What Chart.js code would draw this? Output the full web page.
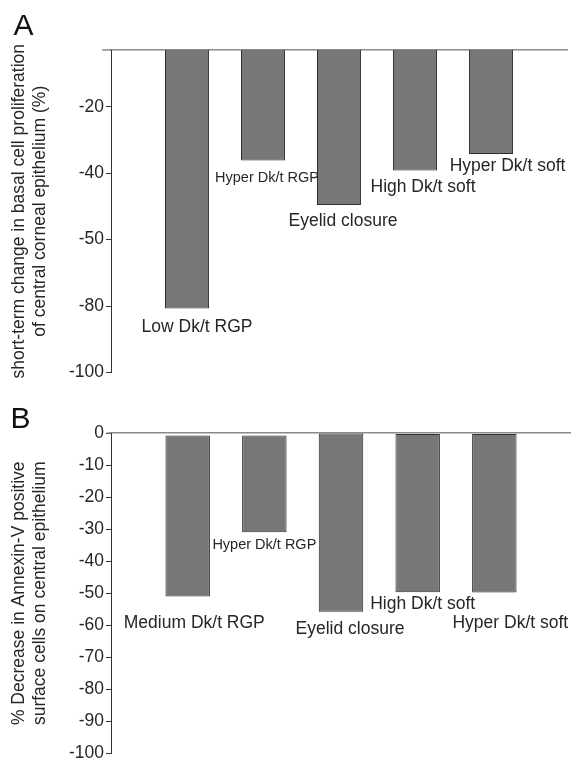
<!DOCTYPE html>
<html>
<head>
<meta charset="utf-8">
<script src="https://cdn.jsdelivr.net/npm/chart.js@4/dist/chart.umd.min.js"></script>
<style>
  html, body { margin: 0; padding: 0; background: #fff; overflow: hidden; }
  .panel { position: absolute; left: 0; width: 571px; }
  #wrapA { top: 0; height: 385px; }
  #wrapB { top: 380px; height: 386px; }
</style>
</head>
<body>
<div class="panel" id="wrapA"><canvas id="chartA" width="571" height="385"></canvas></div>
<div class="panel" id="wrapB"><canvas id="chartB" width="571" height="386"></canvas></div>
<script>
// panel A: short-term change in basal cell proliferation
const categoriesA = ['Low Dk/t RGP', 'Hyper Dk/t RGP', 'Eyelid closure', 'High Dk/t soft', 'Hyper Dk/t soft'];
const valuesA = [-80.7, -36.2, -49.6, -39.2, -34.2];
const tickValuesA = [-20, -40, -60, -80, -100];
const tickLabelsA = ['-20', '-40', '-50', '-80', '-100'];

// panel B: decrease in Annexin-V positive surface cells
const categoriesB = ['Medium Dk/t RGP', 'Hyper Dk/t RGP', 'Eyelid closure', 'High Dk/t soft', 'Hyper Dk/t soft'];
const barTopsB = [-0.8, -0.8, 0, -0.3, -0.3];
const valuesB = [-51.0, -31.0, -55.8, -49.7, -49.8];

// where each category label sits relative to the bottom of its bar: dx, dy, font size
const labelOffsetsA = [[10, 19, 17.5], [4, 17, 14.5], [4, 16, 17.5], [8, 17, 17.5], [16.5, 12, 17.5]];
const labelOffsetsB = [[6.6, 27, 17.5], [0, 13, 14.5], [9, 17, 17.5], [5, 12, 17.5], [16, 31, 17.5]];

const FONT = '"Liberation Sans", Arial, Helvetica, sans-serif';
const INK = '#262626';

Chart.defaults.font.family = FONT;
Chart.defaults.color = INK;

const barLabels = {
  id: 'barLabels',
  afterDatasetsDraw(chart, args, opts) {
    const {ctx, chartArea} = chart;
    const meta = chart.getDatasetMeta(0);
    ctx.save();
    ctx.fillStyle = INK;
    ctx.textAlign = 'center';
    ctx.textBaseline = 'middle';
    meta.data.forEach((bar, i) => {
      const [dx, dy, size] = opts.offsets[i];
      ctx.font = size + 'px ' + FONT;
      ctx.fillText(opts.labels[i], bar.x + dx, bar.y + dy);
    });
    // panel letter
    ctx.fillStyle = '#111';
    ctx.textAlign = 'left';
    ctx.textBaseline = 'alphabetic';
    ctx.font = '30px ' + FONT;
    ctx.fillText(opts.letter, opts.letterX, opts.letterY);
    // the zero line runs a little past the y axis on the left
    ctx.strokeStyle = '#8a8a8a';
    ctx.lineWidth = 1.5;
    ctx.beginPath();
    ctx.moveTo(chartArea.left - opts.lineExtend, chartArea.top);
    ctx.lineTo(chartArea.left, chartArea.top);
    ctx.stroke();
    ctx.restore();
  }
};

function makeChart(canvasId, cfg) {
  const points = cfg.values.map((v, i) => ({x: i + 1, y: cfg.starts ? [cfg.starts[i], v] : v}));
  return new Chart(document.getElementById(canvasId), {
    type: 'bar',
    data: {
      datasets: [{
        data: points,
        backgroundColor: '#777777',
        borderColor: '#2e2e2e',
        borderWidth: 1,
        borderSkipped: false,
        barPercentage: 0.58,
        categoryPercentage: 1,
      }],
    },
    options: {
      responsive: false,
      animation: false,
      events: [],
      layout: {padding: {left: 0, right: cfg.padRight, top: cfg.padTop, bottom: 0}},
      plugins: {
        legend: {display: false},
        tooltip: {enabled: false},
        title: {display: false},
        barLabels: {
          labels: cfg.categories, offsets: cfg.offsets,
          letter: cfg.letter, letterX: cfg.letterX, letterY: cfg.letterY,
          lineExtend: cfg.lineExtend,
        },
      },
      scales: {
        x: {
          type: 'linear',
          position: 'top',
          min: 0,
          max: 6,
          offset: false,
          grid: {display: false, drawTicks: false},
          ticks: {display: false},
          border: {display: true, color: '#8a8a8a', width: 1.5},
        },
        y: {
          min: -100,
          max: cfg.yMax,
          afterBuildTicks: cfg.tickValues ? (s) => { s.ticks = cfg.tickValues.map(v => ({value: v})); } : undefined,
          ticks: {
            stepSize: 10,
            padding: 2,
            font: {size: 17.5},
            color: INK,
            callback: cfg.tickValues ? (v) => cfg.tickLabels[cfg.tickValues.indexOf(v)] : (v) => String(v),
          },
          grid: {drawOnChartArea: false, drawTicks: true, tickLength: 5, color: '#333', tickWidth: 1},
          border: {display: true, color: '#333', width: 1},
          title: {
            display: true,
            text: cfg.yTitle,
            color: INK,
            font: {size: 17.5, lineHeight: 1.2},
            padding: {top: 9, bottom: 16},
          },
        },
      },
    },
    plugins: [barLabels],
  });
}

makeChart('chartA', {
  letter: 'A', letterX: 13.5, letterY: 35,
  padTop: 50, lineExtend: 9,
  categories: categoriesA, values: valuesA, offsets: labelOffsetsA,
  yMax: -2.9, tickValues: tickValuesA, tickLabels: tickLabelsA,
  padRight: 4,
  yTitle: ['short-term change in basal cell proliferation', 'of central corneal epithelium (%)'],
});

makeChart('chartB', {
  letter: 'B', letterX: 10.5, letterY: 48.3,
  padTop: 53, lineExtend: 4,
  categories: categoriesB, values: valuesB, starts: barTopsB, offsets: labelOffsetsB,
  yMax: 0,
  padRight: 0,
  yTitle: ['% Decrease in Annexin-V positive', 'surface cells on central epithelium'],
});
</script>
</body>
</html>
